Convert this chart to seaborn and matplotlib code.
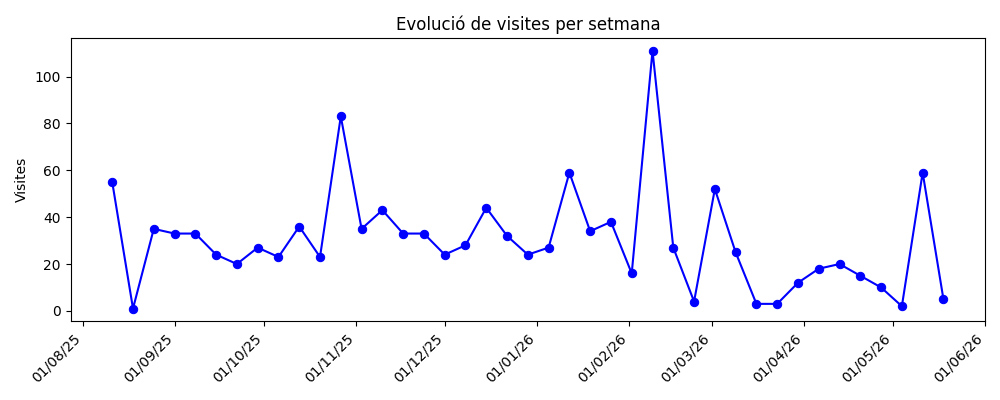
import matplotlib
matplotlib.use("Agg")
import matplotlib.pyplot as plt
import matplotlib.dates as mdates
import seaborn as sns
import pandas as pd

start_date = "2025-08-11"
visites = [55, 1, 35, 33, 33, 24, 20, 27, 23, 36, 23, 83, 35, 43, 33, 33, 24, 28,
           44, 32, 24, 27, 59, 34, 38, 16, 111, 27, 4, 52, 25, 3, 3, 12, 18, 20,
           15, 10, 2, 59, 5]
title = "Evolució de visites per setmana"
ylabel = "Visites"

dates = pd.date_range(start_date, periods=len(visites), freq="7D")
df = pd.DataFrame({"setmana": dates, "visites": visites})

fig, ax = plt.subplots(figsize=(10, 4), dpi=100)
sns.lineplot(data=df, x="setmana", y="visites", ax=ax, color="blue",
             marker="o", markersize=6, markeredgecolor="blue", linewidth=1.5)
ax.set_title(title)
ax.set_ylabel(ylabel)
ax.set_xlabel("")
ax.xaxis.set_major_locator(mdates.MonthLocator())
ax.xaxis.set_major_formatter(mdates.DateFormatter("%d/%m/%y"))
plt.setp(ax.get_xticklabels(), rotation=45, ha="right")
fig.tight_layout()
fig.savefig("out.png", dpi=100)
